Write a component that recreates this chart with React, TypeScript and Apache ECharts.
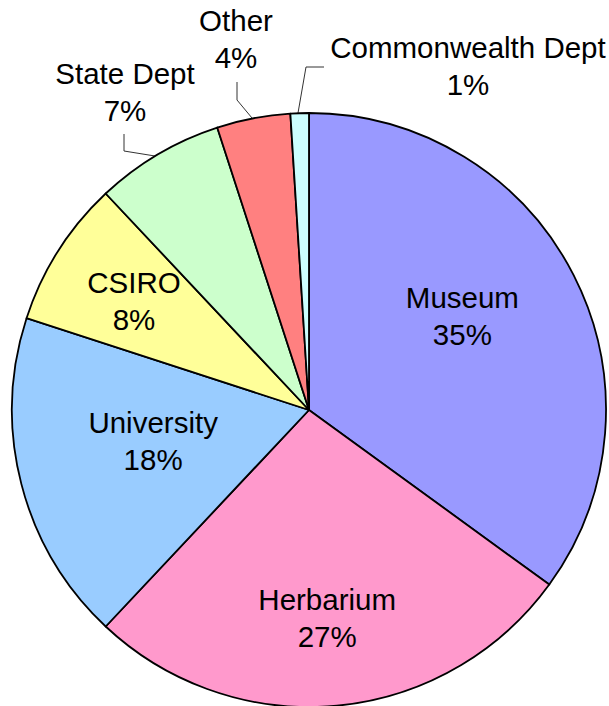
import React, { useEffect, useRef } from "react";
import * as echarts from "echarts";

const categories = ["Museum", "Herbarium", "University", "CSIRO", "State Dept", "Other", "Commonwealth Dept"];
const values = [35, 27, 18, 8, 7, 4, 1];
const colors = ["#9999FF", "#FF99CC", "#99CCFF", "#FFFF99", "#CCFFCC", "#FF8080", "#CCFFFF"];

const CX = 309;
const CY = 410;
const R = 297;

// label placement: [angle from top clockwise (deg), distance as fraction of radius] for inside labels
const insideLabelPolar: Record<number, [number, number]> = {
  0: [58.6, 0.605],
  1: [175, 0.703],
  2: [258.8, 0.535],
  3: [301.9, 0.694],
};
// outside labels: absolute label centre and leader polyline
const outsideLabels: Record<number, { x: number; y: number; line: number[][] }> = {
  4: { x: 125, y: 92, line: [[155, 156], [124, 151], [124, 134]] },
  5: { x: 236, y: 39, line: [[252, 118], [237, 100], [237, 82]] },
  6: { x: 468, y: 66, line: [[298, 113], [306, 67], [324, 67]] },
};

export default function App() {
  const ref = useRef<HTMLDivElement>(null);
  useEffect(() => {
    if (!ref.current) return;
    const chart = echarts.init(ref.current, undefined, { renderer: "svg" });
    const data = categories.map((name, i) => ({
      name,
      value: values[i],
      itemStyle: { color: colors[i] },
      label: { position: i in outsideLabels ? "outside" : "inside" },
      labelLine: { show: i in outsideLabels },
    }));
    chart.setOption({
      animation: false,
      backgroundColor: "#ffffff",
      series: [
        {
          type: "pie",
          center: [CX, CY],
          radius: [0, R],
          startAngle: 90,
          clockwise: true,
          avoidLabelOverlap: false,
          data,
          itemStyle: { borderColor: "#000000", borderWidth: 1.8 },
          label: {
            show: true,
            formatter: (p: any) => `${p.name}\n${p.value}%`,
            fontFamily: "Liberation Sans, Arial, sans-serif",
            fontSize: 29.5,
            lineHeight: 37,
            color: "#000000",
            align: "center",
          },
          labelLine: {
            show: true,
            lineStyle: { color: "#333333", width: 1 },
          },
          emphasis: { disabled: true },
          labelLayout: (params: any) => {
            const i = params.dataIndex;
            if (i in outsideLabels) {
              const o = outsideLabels[i];
              return { x: o.x, y: o.y, align: "center", verticalAlign: "middle", labelLinePoints: o.line };
            }
            const [a, f] = insideLabelPolar[i];
            const rad = (a * Math.PI) / 180;
            return {
              x: CX + f * R * Math.sin(rad),
              y: CY - f * R * Math.cos(rad),
              align: "center",
              verticalAlign: "middle",
            };
          },
        },
      ],
    });
    return () => chart.dispose();
  }, []);
  return (
    <div
      ref={ref}
      style={{ position: "fixed", left: 0, top: 0, width: 609, height: 706, background: "#fff" }}
    />
  );
}
